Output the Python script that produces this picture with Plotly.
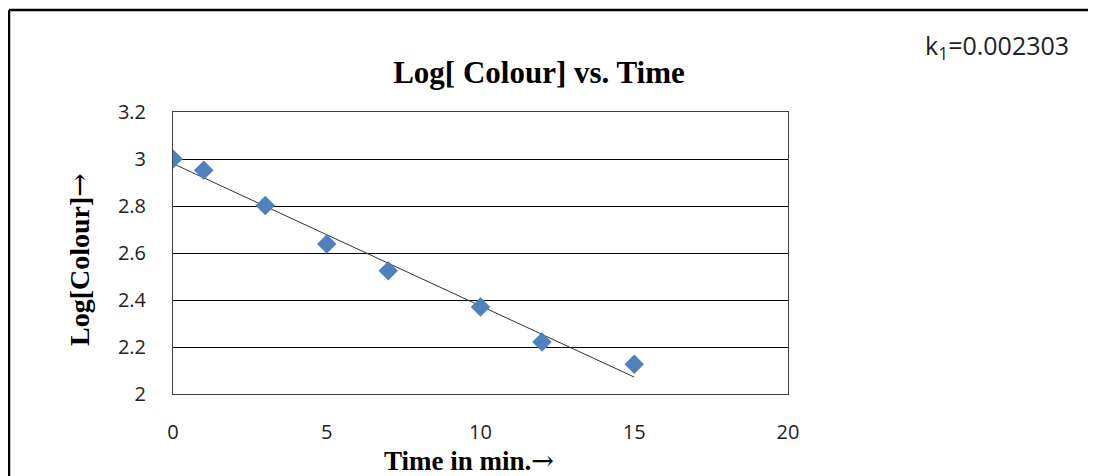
import numpy as np
import plotly.graph_objects as go

# Data
time_min = [0, 1, 3, 5, 7, 10, 12, 15]
log_colour = [3.0, 2.952, 2.802, 2.638, 2.524, 2.370, 2.221, 2.127]
x_ticks = [0, 5, 10, 15, 20]
y_ticks = [2, 2.2, 2.4, 2.6, 2.8, 3, 3.2]
y_tick_labels = ["2", "2.2", "2.4", "2.6", "2.8", "3", "3.2"]

# Linear trendline (least squares fit of the data)
slope, intercept = np.polyfit(time_min, log_colour, 1)
trend_x = [time_min[0], time_min[-1]]
trend_y = [intercept + slope * t for t in trend_x]

# The page body has an 8px margin, so the figure is offset by 8px.
OFF = 8
W, H = 1096 - OFF, 476 - OFF
L, R, T, B = 173 - OFF, 788 - OFF, 112 - OFF, 394 - OFF

fig = go.Figure()
fig.add_trace(go.Scatter(
    x=trend_x, y=trend_y, mode="lines",
    line=dict(color="#333333", width=1), hoverinfo="skip", showlegend=False,
))
fig.add_trace(go.Scatter(
    x=time_min, y=log_colour, mode="markers",
    marker=dict(symbol="diamond", size=15, color="#4F81BD",
                line=dict(width=0)),
    showlegend=False,
))

def px_x(px):
    return (px - OFF - L) / (R - L)

def px_y(py):
    return (B - (py - OFF)) / (B - T)

arrow = "<span style='font-family:DejaVu Serif;font-weight:normal'>\u2192</span>"

fig.update_layout(
    width=W, height=H,
    margin=dict(l=L, r=W - R, t=T, b=H - B, pad=0, autoexpand=False),
    paper_bgcolor="white", plot_bgcolor="white",
    showlegend=False,
    title=dict(
        text="<b>Log[ Colour] vs. Time</b>",
        font=dict(family="Liberation Serif", size=31, color="black"),
        x=(539 - OFF) / W, xanchor="center", y=1 - (72 - OFF) / H, yanchor="middle",
    ),
    xaxis=dict(
        range=[0, 20], tickvals=x_ticks, ticktext=[str(v) for v in x_ticks],
        showgrid=False, zeroline=False, automargin=False,
        showline=True, linecolor="#404040", linewidth=1, mirror=True,
        ticks="", ticklabelstandoff=20,
        tickfont=dict(family="Open Sans", size=20, color="#222222"),
    ),
    yaxis=dict(
        range=[2, 3.2], tickvals=y_ticks, ticktext=y_tick_labels,
        showgrid=True, gridcolor="black", gridwidth=1, zeroline=False,
        automargin=False,
        showline=True, linecolor="#404040", linewidth=1, mirror=True,
        ticks="", ticklabelstandoff=22,
        tickfont=dict(family="Open Sans", size=20, color="#222222"),
    ),
    shapes=[
        dict(type="line", xref="paper", yref="paper",
             x0=px_x(OFF + 1), x1=px_x(1100), y0=px_y(OFF + 2), y1=px_y(OFF + 2),
             line=dict(color="black", width=2.5)),
        dict(type="line", xref="paper", yref="paper",
             x0=px_x(OFF + 1), x1=px_x(OFF + 1), y0=px_y(OFF + 2), y1=px_y(480),
             line=dict(color="black", width=2.5)),
    ],
    annotations=[
        dict(text="k<sub>1</sub>=0.002303", xref="paper", yref="paper",
             x=px_x(923), y=px_y(47), xanchor="left", yanchor="middle",
             showarrow=False,
             font=dict(family="Open Sans", size=25, color="#222222")),
        dict(text="<b>Time in min.</b>" + arrow, xref="paper", yref="paper",
             x=px_x(469), y=px_y(460), xanchor="center", yanchor="middle",
             showarrow=False,
             font=dict(family="Liberation Serif", size=27, color="black")),
        dict(text="<b>Log[Colour]</b>" + arrow, xref="paper", yref="paper",
             x=px_x(79), y=px_y(260), xanchor="center", yanchor="middle",
             textangle=-90, showarrow=False,
             font=dict(family="Liberation Serif", size=28, color="black")),
    ],
)

fig.write_html("out.html")
